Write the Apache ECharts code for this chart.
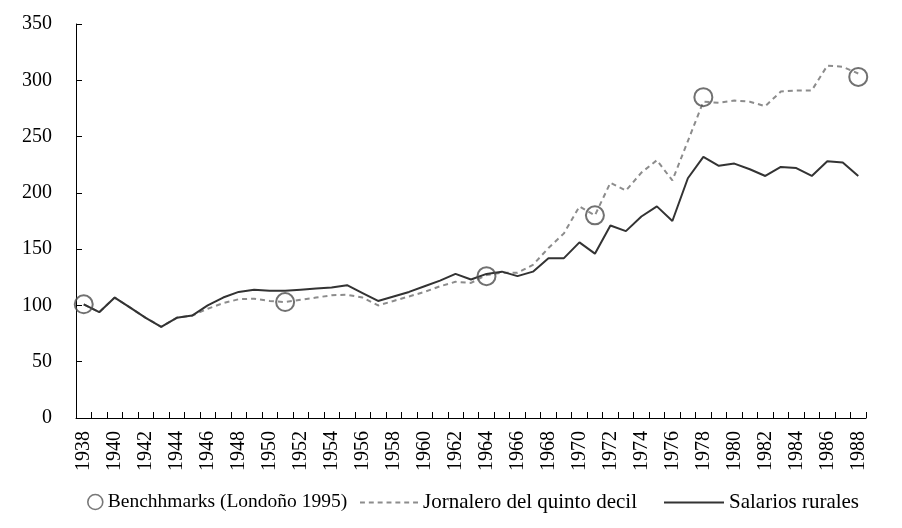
<!DOCTYPE html>
<html>
<head>
<meta charset="utf-8">
<script src="https://cdn.jsdelivr.net/npm/echarts@6/dist/echarts.min.js"></script>
<style>html,body{margin:0;padding:0;background:#fff}#c{width:902px;height:528px}</style>
</head>
<body>
<div id="c"></div>
<script>
const years = [];
for (let y = 1938; y <= 1988; y++) years.push(String(y));

const salariosRurales = [101, 94, 107, 98, 89, 81, 89, 91, 100, 107, 112, 114, 113, 113, 114, 115, 116, 118, 111, 104,
  108, 112, 117, 122, 128, 123, 128, 130, 126, 130, 142, 142, 156, 146, 171, 166, 179, 188, 175, 213,
  232, 224, 226, 221, 215, 223, 222, 215, 228, 227, 215];

const jornalero = [101, 94, 107, 98, 89, 81, 89, 91, 97, 102, 105.5, 106, 104, 103, 105, 107, 109, 109.5, 107, 100,
  104, 108, 112, 117, 121, 120, 127, 129, 129, 136, 151, 164, 188, 180, 209, 202, 218, 229, 211, 246,
  281, 280, 282, 281, 277, 290, 291, 291, 313, 312, 306];

const benchYears = ['1938', '1951', '1964', '1971', '1978', '1988'];
const benchValues = [101, 103, 126, 180, 285, 303];

const yTicks = [0, 50, 100, 150, 200, 250, 300, 350];

const names = ['Benchhmarks (Londoño 1995)', 'Jornalero del quinto decil', 'Salarios rurales'];
const FONT = '"Liberation Serif", "Times New Roman", "DejaVu Serif", serif';

// legend icon shapes (filled paths)
const dashIcon = 'path://M0,0h5v2h-5z M9,0h5v2h-5z M18,0h5v2h-5z M27,0h5v2h-5z M36,0h5v2h-5z M45,0h5v2h-5z M54,0h5v2h-5z';
const solidIcon = 'path://M0,0h60v2h-60z';

const chart = echarts.init(document.getElementById('c'), null, {renderer: 'canvas'});
chart.setOption({
  animation: false,
  backgroundColor: '#fff',
  grid: {left: 76, right: 36, top: 24, bottom: 110, containLabel: false},
  xAxis: {
    type: 'category',
    data: years,
    boundaryGap: true,
    axisLine: {lineStyle: {color: '#000', width: 1}},
    axisTick: {show: true, inside: true, interval: 0, length: 6, lineStyle: {color: '#000', width: 1}},
    axisLabel: {interval: 1, rotate: 90, margin: 13, color: '#000', fontFamily: FONT, fontSize: 20}
  },
  yAxis: {
    type: 'value',
    min: yTicks[0], max: yTicks[yTicks.length - 1], interval: 50,
    splitLine: {show: false},
    axisLine: {show: true, lineStyle: {color: '#000', width: 1}},
    axisTick: {show: true, inside: true, length: 6, lineStyle: {color: '#000', width: 1}},
    axisLabel: {margin: 24, color: '#000', fontFamily: FONT, fontSize: 20}
  },
  legend: [
    {data: [{name: names[0], icon: 'circle'}], left: 82, top: 487, itemWidth: 15, itemHeight: 15,
      itemStyle: {color: 'rgba(0,0,0,0)', borderColor: '#555', borderWidth: 1.6},
      textStyle: {fontFamily: FONT, fontSize: 19.5, color: '#000'}},
    {data: [{name: names[1], icon: dashIcon}], left: 355, top: 487, itemWidth: 58, itemHeight: 2,
      itemStyle: {color: '#8c8c8c', borderWidth: 0},
      textStyle: {fontFamily: FONT, fontSize: 21, color: '#000'}},
    {data: [{name: names[2], icon: solidIcon}], left: 659, top: 487, itemWidth: 60, itemHeight: 2,
      itemStyle: {color: '#333', borderWidth: 0},
      textStyle: {fontFamily: FONT, fontSize: 21, color: '#000'}}
  ],
  series: [
    {
      name: names[0], type: 'scatter',
      data: benchYears.map((y, i) => [y, benchValues[i]]),
      symbol: 'circle', symbolSize: 18,
      itemStyle: {color: 'rgba(0,0,0,0)', borderColor: '#4d4d4d', borderWidth: 2},
      z: 5
    },
    {
      name: names[1], type: 'line', data: jornalero, symbol: 'none',
      lineStyle: {color: '#8c8c8c', width: 2, type: [5, 4]},
      itemStyle: {color: '#8c8c8c'}, z: 3
    },
    {
      name: names[2], type: 'line', data: salariosRurales, symbol: 'none',
      lineStyle: {color: '#333', width: 2},
      itemStyle: {color: '#333'}, z: 4
    }
  ]
});
</script>
</body>
</html>
